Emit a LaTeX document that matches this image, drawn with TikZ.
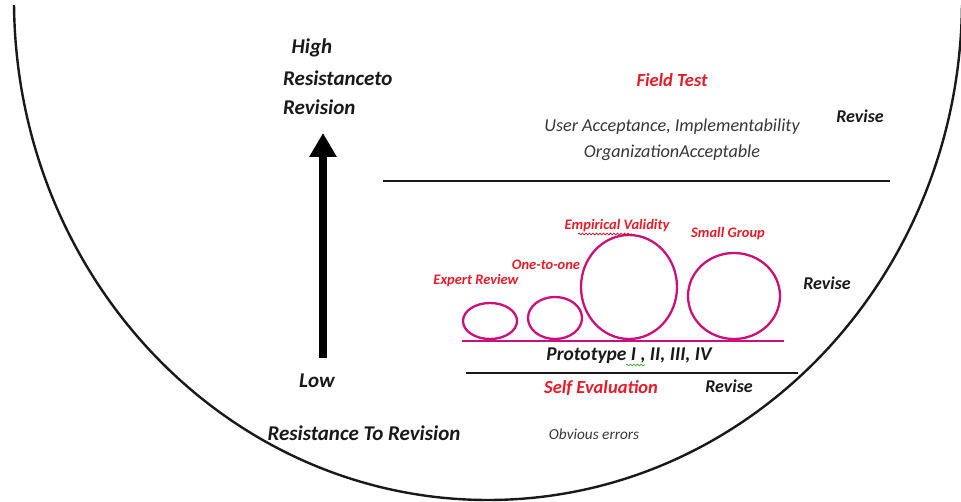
\documentclass[tikz,border=0pt]{standalone}
\usepackage{fontspec}
\setmainfont{Carlito}
\usetikzlibrary{arrows.meta,decorations.pathmorphing}
\definecolor{inkred}{RGB}{232,28,40}
\definecolor{loopmag}{RGB}{204,16,122}
\definecolor{darktext}{RGB}{25,25,25}
\definecolor{graytext}{RGB}{55,55,55}
\definecolor{spellgreen}{RGB}{60,170,60}
\tikzset{
  heading/.style={font=\bfseries\itshape\fontsize{21}{24}\selectfont, text=darktext, inner sep=0pt},
  revisetag/.style={font=\bfseries\itshape\fontsize{18}{21}\selectfont, text=darktext, inner sep=0pt},
  stagetitle/.style={font=\bfseries\itshape\fontsize{18.5}{21}\selectfont, text=inkred, inner sep=0pt},
  phase/.style={font=\bfseries\itshape\fontsize{14.5}{17}\selectfont, text=inkred, inner sep=0pt},
  criteria/.style={font=\itshape\fontsize{18.2}{21}\selectfont, text=graytext, inner sep=0pt},
  divider/.style={line width=2.4pt, draw=darktext},
  loopline/.style={line width=2.3pt, draw=loopmag},
  squiggle/.style={line width=0.7pt, decorate, decoration={snake, amplitude=0.9pt, segment length=3.5pt}}
}
\begin{document}
\begin{tikzpicture}[x=1pt,y=-1pt]
\useasboundingbox (0,0) rectangle (961,502);

% bowl outline
\begin{scope}
  \clip (0,6) rectangle (961,502);
  \draw[line width=2.4pt, draw=darktext] (488,0) ellipse [x radius=474, y radius=500];
\end{scope}

% resistance axis
\node[heading] (high) at (312,48) {High};
\node[heading, anchor=west] (resto) at (283,78) {Resistanceto};
\node[heading, anchor=west] (revtop) at (283,107) {Revision};
\node[heading] (low) at (317,381) {Low};
\node[heading] (resbottom) at (364,433) {Resistance To Revision};
\coordinate (arrowfoot) at (323,358);
\coordinate (arrowtip) at (323,133);
\draw[line width=8pt, draw=black, -{Triangle[width=26pt,length=24pt]}] (arrowfoot) -- (arrowtip);

% field test band
\node[stagetitle] (field) at (672,80) {Field Test};
\node[criteria] (useracc) at (672,127) {User Acceptance, Implementability};
\node[criteria] (orgacc) at (672,153) {OrganizationAcceptable};
\node[revisetag] (revise1) at (860,116) {Revise};
\coordinate (div1l) at (383,181);
\coordinate (div1r) at (890,181);
\draw[divider] (div1l) -- (div1r);

% formative loops
\coordinate (basel) at (462,341);
\coordinate (baser) at (784,341);
\draw[loopline] (basel) -- (baser);
\draw[loopline] (490,321) ellipse [x radius=27, y radius=18];
\draw[loopline] (555,318) ellipse [x radius=27, y radius=21];
\draw[loopline] (629,287) ellipse [x radius=48, y radius=52];
\draw[loopline] (734,296) ellipse [x radius=46, y radius=43];
\node[phase] (expert) at (476,281) {Expert Review};
\node[phase] (onetoone) at (546,265) {One-to-one};
\node[phase] (empirical) at (617,226) {Empirical Validity};
\node[phase] (smallgroup) at (728,234) {Small Group};
\draw[squiggle, draw=inkred!80!black] (578,234) -- (632,234);
\node[revisetag] (revise2) at (827,283) {Revise};
\node[heading, font=\bfseries\itshape\fontsize{19.5}{22}\selectfont] (proto) at (629,356) {Prototype I , II, III, IV};
\draw[squiggle, draw=spellgreen] (626,365) -- (645,365);

% self evaluation band
\coordinate (div2l) at (466,373);
\coordinate (div2r) at (798,373);
\draw[divider] (div2l) -- (div2r);
\node[stagetitle] (selfeval) at (601,388) {Self Evaluation};
\node[revisetag] (revise3) at (729,386) {Revise};
\node[criteria, font=\itshape\fontsize{15.3}{18}\selectfont] (obvious) at (594,434) {Obvious errors};
\end{tikzpicture}
\end{document}
